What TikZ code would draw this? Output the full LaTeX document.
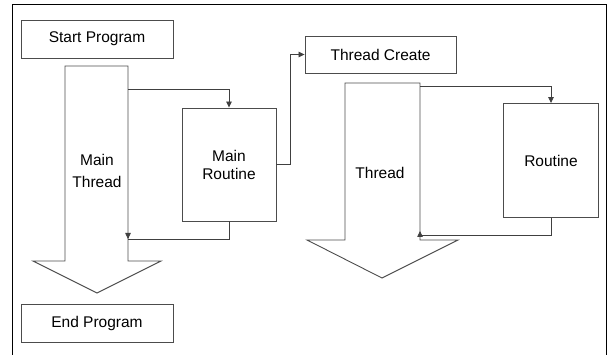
\documentclass[tikz,border=0pt]{standalone}
\usepackage{fontspec}
\setmainfont{Liberation Sans}
\usetikzlibrary{arrows.meta,calc}
\begin{document}
\begin{tikzpicture}[x=1pt,y=-1pt,
  line width=0.9pt,
  shape line/.style={draw=black!70},
  labelbox/.style={shape line, minimum width=152pt, minimum height=38pt, inner sep=0pt, font=\fontsize{15.5}{18}\selectfont},
  routinebox/.style={shape line, inner sep=0pt, font=\fontsize{15.5}{18}\selectfont, align=center},
  flow/.style={draw=black!75, line width=0.8pt},
  tip/.style={-{Triangle[length=6pt,width=5.5pt]}}]
\useasboundingbox (0,0) rectangle (608,355);
% frame (open at the bottom)
\draw[black, line width=1pt] (12,355) -- (12,5) -- (606,5) -- (606,355);

% boxes
\node[labelbox] (start) at (97,39) {Start Program};
\node[labelbox] (end) at (97,323) {End Program};
\node[labelbox, minimum width=151pt, minimum height=37pt] (create) at (380.5,54.5) {Thread Create};
\node[routinebox, minimum width=94pt, minimum height=113pt] (mainr) at (229,164.5) {Main\\Routine};
\node[routinebox, minimum width=95pt, minimum height=114pt] (rout) at (551,160.5) {Routine};

% block arrows
\draw[shape line] (65,66) -- (128,66) -- (128,261) -- (161,261) -- (97,293)
  -- (33,261) -- (65,261) -- cycle;
\node[font=\fontsize{15.5}{22}\selectfont, align=center] (mthr) at (97,171) {Main\\Thread};
\draw[shape line] (345,83) -- (420,83) -- (420,240) -- (458,240) -- (382,278)
  -- (307,240) -- (345,240) -- cycle;
\node[font=\fontsize{15.5}{18}\selectfont] (thr) at (380,173) {Thread};

% connectors
\coordinate (m1) at (128,89);
\coordinate (m2) at (128,239);
\coordinate (t1) at (420,86);
\coordinate (t2) at (420,235.5);
\draw[flow, tip] (m1) -| (mainr.north);
\draw[flow] (mainr.south) |- (m2);
\draw[flow, tip] ($(m2)+(0,-0.5)$) -- (m2);
\draw[flow, tip] (mainr.east |- 0,164) -- (290,164) |- (create.west);
\draw[flow, tip] (t1) -| (rout.north);
\draw[flow] (rout.south) |- (t2);
\draw[flow, tip] ($(t2)+(0,0.5)$) -- ++(0,-5);
\end{tikzpicture}
\end{document}
